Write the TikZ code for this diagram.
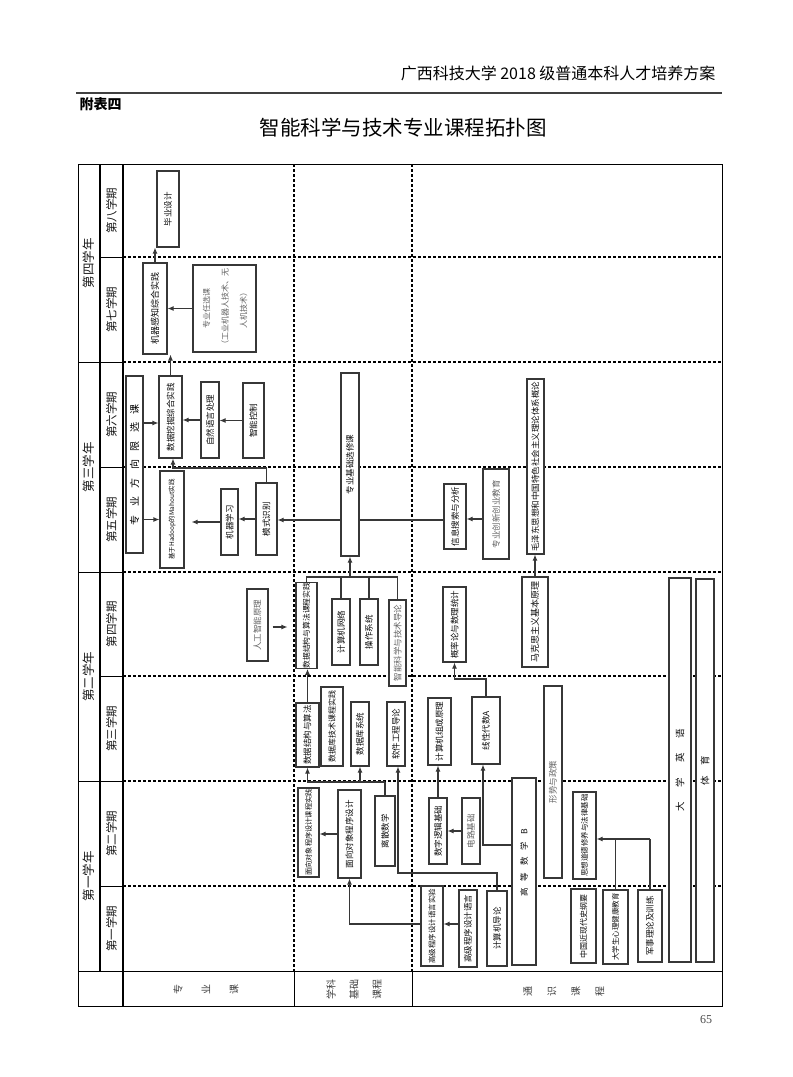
\documentclass[tikz,border=0pt]{standalone}
\usepackage{fontspec}
\setmainfont{Noto Sans CJK SC}
\newfontfamily\pagefont{Liberation Serif}
\usepackage{graphicx}
\usepackage{xcolor}
\usepackage{tikz}
\usetikzlibrary{arrows.meta}
\definecolor{boxline}{RGB}{55, 55, 55}
\definecolor{lighttext}{RGB}{100, 100, 100}
\newcommand{\vtext}[1]{\rotatebox{90}{#1}}
\tikzset{
    course/.style={draw=boxline, line width=1.1pt, fill=white, inner sep=0pt, text=black!95, font=\fontsize{8.5}{10}\selectfont},
    bx/.style 2 args={minimum width=#1pt, minimum height=#2pt},
    link/.style={draw=boxline, line width=1.1pt},
    tableline/.style={line width=1pt},
    thickrule/.style={line width=2pt},
    semline/.style={line width=1.3pt, dash pattern=on 2.5pt off 2.5pt}
}

\begin{document}
\begin{tikzpicture}[x=1pt, y=-1pt, >={Latex[length=6pt,width=5pt]}]
                \useasboundingbox (0,0) rectangle (793,1077);
                \fill[white] (0,0) rectangle (793,1077);

                % Page head and title
                \node[anchor=east, font=\fontsize{16}{18}\selectfont] (head) at (719,73) {广西科技大学 2018 级普通本科人才培养方案};
                \draw[line width=1.5pt, black!75] (76,93) -- (722,93);
                \node[anchor=west, font=\fontsize{14}{16}\selectfont\bfseries] (fb) at (76,104) {附表四};
                \node[font=\fontsize{20.5}{24}\selectfont] (title) at (403,128) {智能科学与技术专业课程拓扑图};

                % Table frame
                \draw[tableline] (78,164) rectangle (722,1006);
                \draw[thickrule] (100,164) -- (100,971);
                \draw[thickrule] (123,164) -- (123,1006);
                \draw[tableline] (78,971) -- (722,971);
                \draw[tableline] (294,971) -- (294,1006);
                \draw[tableline] (412,971) -- (412,1006);
                \foreach \y in {362,572,781} \draw[tableline] (78,\y) -- (123,\y);
                \foreach \y in {257,467,676,886} \draw[tableline] (100,\y) -- (123,\y);
                \foreach \y in {257,362,467,572,676,781,886} \draw[semline] (123,\y) -- (722,\y);
                \foreach \x in {294,412} \draw[semline] (\x,164) -- (\x,971);

                % Years and terms
                \foreach \y/\t [count=\i] in {263/第四学年, 467/第三学年, 676.5/第二学年, 876/第一学年}
                    \node[rotate=90, text=black!90, font=\fontsize{12.5}{14}\selectfont] (year\i) at (89,\y) {\t};
                \foreach \y/\t [count=\i] in {210.5/第八学期, 309.5/第七学期, 414.5/第六学期, 519.5/第五学期, 624/第四学期, 728.5/第三学期, 833.5/第二学期, 928.5/第一学期}
                    \node[rotate=90, text=black!90, font=\fontsize{11.5}{13}\selectfont] (term\i) at (111.5,\y) {\t};

                % Column heads
                \node[rotate=90, align=center, text=black!75, font=\fontsize{10}{28}\selectfont] (zyk) at (206,989) {专\\业\\课};
                \node[rotate=90, align=center, text=black!75, font=\fontsize{10}{23}\selectfont] (xkjc) at (354,989) {学科\\基础\\课程};
                \node[rotate=90, align=center, text=black!75, font=\fontsize{10}{24}\selectfont] (tskc) at (564,991) {通\\识\\课\\程};

                % Major courses
                \node[course, bx={22}{76}] (bysj) at (168,209) {\vtext{毕业设计}};
                \node[course, bx={24}{91}, font=\fontsize{9}{10}\selectfont] (jqgz) at (155,308.5) {\vtext{机器感知综合实践}};
                \node[course, bx={63}{87}, text=lighttext] (zyrx) at (224.5,308.5) {\vtext{\fontsize{8}{18.5}\selectfont\begin{tabular}{@{}c@{}}专业任选课\\（工业机器人技术、无\\人机技术）\end{tabular}}};
                \node[course, bx={17}{177}, text=black, font=\fontsize{10}{12}\selectfont] (fxxx) at (134.5,464.5) {\vtext{专\hspace{8.5pt}业\hspace{8.5pt}方\hspace{8.5pt}向\hspace{8.5pt}限\hspace{8.5pt}选\hspace{8.5pt}课}};
                \node[course, bx={23}{82}] (sjwj) at (170.5,417) {\vtext{数据挖掘综合实践}};
                \node[course, bx={18}{76}] (zryy) at (210,420) {\vtext{自然语言处理}};
                \node[course, bx={21}{75}] (znkz) at (253.5,420.5) {\vtext{智能控制}};
                \node[course, bx={24}{97}, font=\fontsize{6.5}{8}\selectfont] (hadoop) at (172,519.5) {\vtext{基于Hadoop的Mahout实践}};
                \node[course, bx={17}{66}] (jqxx) at (229.5,522) {\vtext{机器学习}};
                \node[course, bx={21}{72}] (msbs) at (266.5,519) {\vtext{模式识别}};

                % Basic courses
                \node[course, bx={18}{183}] (jcxx) at (350,464.5) {\vtext{专业基础选修课}};
                \node[course, bx={21}{83}, font=\fontsize{7.8}{9}\selectfont] (sjsj) at (306.5,625.5) {\vtext{数据结构与算法课程实践}};
                \node[course, bx={18}{66}] (jsjw) at (341,632) {\vtext{计算机网络}};
                \node[course, bx={18}{66}] (czxt) at (369,632) {\vtext{操作系统}};
                \node[course, bx={17}{86}, text=lighttext] (dlkx) at (397.5,643) {\vtext{智能科学与技术导论}};
                \node[course, bx={21}{72}, text=lighttext] (rgzn) at (257.5,625) {\vtext{人工智能原理}};
                \node[course, bx={23}{64}] (sjjg) at (307.5,735) {\vtext{数据结构与算法}};
                \node[course, bx={22}{79}, font=\fontsize{8}{9}\selectfont] (sjks) at (332,726.5) {\vtext{数据库技术课程实践}};
                \node[course, bx={18}{64}] (sjkx) at (360,734) {\vtext{数据库系统}};
                \node[course, bx={18}{64}] (rjgc) at (396,734) {\vtext{软件工程导论}};
                \node[course, bx={21}{89}, font=\fontsize{7.2}{9}\selectfont] (mxsj) at (308.5,832.5) {\vtext{面向对象程序设计课程实践}};
                \node[course, bx={23}{88}] (mxdx) at (349.5,834) {\vtext{面向对象程序设计}};
                \node[course, bx={20}{70}] (lssx) at (385,831) {\vtext{离散数学}};

                % General courses
                \node[course, bx={22}{65}] (xxss) at (455,516.5) {\vtext{信息搜索与分析}};
                \node[course, bx={26}{90}, text=lighttext] (cxcy) at (496,514) {\vtext{专业创新创业教育}};
                \node[course, bx={17}{175}] (mzd) at (535.5,466.5) {\vtext{毛泽东思想和中国特色社会主义理论体系概论}};
                \node[course, bx={26}{90}, font=\fontsize{9}{10}\selectfont] (mks) at (535,622) {\vtext{马克思主义基本原理}};
                \node[course, bx={23}{75}] (gll) at (454.5,624.5) {\vtext{概率论与数理统计}};
                \node[course, bx={23}{67}] (jszc) at (439.5,731.5) {\vtext{计算机组成原理}};
                \node[course, bx={28}{67}] (xxds) at (486,730.5) {\vtext{线性代数A}};
                \node[course, bx={18}{192}, text=lighttext] (xszc) at (553,782) {\vtext{形势与政策}};
                \node[course, bx={22}{384}, font=\fontsize{9.5}{11}\selectfont] (dxyy) at (680,770) {\vtext{大\hspace{15pt}学\hspace{15pt}英\hspace{15pt}语}};
                \node[course, bx={18}{383}, font=\fontsize{9.5}{11}\selectfont] (ty) at (705,770.5) {\vtext{体\hspace{11pt}育}};
                \node[course, bx={18}{66}] (szlj) at (438,831) {\vtext{数字逻辑基础}};
                \node[course, bx={18}{66}, text=lighttext] (dljc) at (471,831) {\vtext{电路基础}};
                \node[course, bx={24}{187}] (gdsx) at (524,871.5) {\vtext{\hspace{17pt}高\hspace{7pt}等\hspace{7pt}数\hspace{7pt}学\hspace{7pt}B}};
                \node[course, bx={23}{87}, font=\fontsize{7.5}{9}\selectfont] (sxdd) at (584.5,835.5) {\vtext{思想道德修养与法律基础}};
                \node[course, bx={25}{74}, font=\fontsize{8}{9}\selectfont] (jds) at (583.5,926) {\vtext{中国近现代史纲要}};
                \node[course, bx={25}{74}, font=\fontsize{7.5}{9}\selectfont] (xljk) at (615.5,927) {\vtext{大学生心理健康教育}};
                \node[course, bx={24}{72}] (jsll) at (650,926) {\vtext{军事理论及训练}};
                \node[course, bx={22}{80}, font=\fontsize{7.5}{9}\selectfont] (gjsy) at (432,926) {\vtext{高级程序设计语言实验}};
                \node[course, bx={18}{77}] (gjyy) at (468,928.5) {\vtext{高级程序设计语言}};
                \node[course, bx={20}{75}] (jsjd) at (497,928.5) {\vtext{计算机导论}};

                % Links, major courses
                \draw[link, ->] (jqgz.north) -- (jqgz.north |- bysj.south);
                \draw[link, ->] (zyrx.west) -- (zyrx.west -| jqgz.east);
                \draw[link, ->] (sjwj.north) -- (sjwj.north |- jqgz.south);
                \draw[link, ->] (fxxx.east |- 0,423) -- (sjwj.west |- 0,423);
                \draw[link, ->] (fxxx.east |- hadoop.west) -- (hadoop.west);
                \draw[link, ->] (zryy.west) -- (zryy.west -| sjwj.east);
                \draw[link, ->] (znkz.west) -- (znkz.west -| zryy.east);
                \draw[link, ->, shorten >=7pt] (jqxx.west) -- (jqxx.west -| hadoop.east);
                \draw[link, ->] (msbs.west) -- (msbs.west -| jqxx.east);
                \draw[link, ->] (msbs.north) -- (msbs.north |- 0,468) -| ([xshift=2.5pt]sjwj.south);
                \draw[link] (xxss.west |- 0,520) -- (jcxx.east |- 0,520);
                \draw[link, ->] (jcxx.west |- 0,520) -- (msbs.east |- 0,520);

                % Links, basic courses
                \coordinate (jn) at (350,577);
                \draw[link] (sjsj.north) |- (jn);
                \draw[link] (dlkx.north) |- (jn);
                \draw[link] (jsjw.north) -- (jsjw.north |- jn);
                \draw[link] (czxt.north) -- (czxt.north |- jn);
                \draw[link, ->] (jn) -- (jcxx.south);
                \draw[link, ->, shorten <=4pt, shorten >=8pt] (rgzn.east |- 0,627) -- (sjsj.west |- 0,627);
                \draw[link, ->] (sjjg.north) -- (sjjg.north |- sjsj.south);
                \coordinate (lsbar) at (385,782);
                \draw[link] (lssx.north) -- (lsbar);
                \draw[link, ->] (lsbar) -| (sjjg.south);
                \draw[link, ->] (sjkx.south |- lsbar) -- (sjkx.south);
                \coordinate (dlbar) at (497,873);
                \draw[link, ->] (jsjd.north) -- (dlbar) -| ([xshift=2pt]rjgc.south);
                \draw[link, ->] (mxdx.west) -- (mxdx.west -| mxsj.east);
                \draw[link, ->] (gjsy.west |- 0,924) -| (mxdx.south);
                \draw[link, ->] (gjyy.west |- 0,924) -- (gjsy.east |- 0,924);

                % Links, general courses
                \draw[link, ->] (cxcy.west |- 0,519) -- (xxss.east |- 0,519);
                \draw[link, ->] (mks.north) -- (mks.north |- mzd.south);
                \coordinate (xdbar) at (486,679);
                \draw[link, ->] (xxds.north) -- (xdbar) -| (gll.south);
                \draw[link, ->] (szlj.north) -- (szlj.north |- jszc.south);
                \draw[link, ->] (dljc.west) -- (dljc.west -| szlj.east);
                \draw[link, ->] (gdsx.west |- 0,845) -| ([xshift=-3pt]xxds.south);
                \coordinate (jxbar) at (650,839);
                \draw[link] (jsll.north) -- (jxbar);
                \draw[link] (xljk.north) -- (xljk.north |- jxbar);
                \draw[link, ->] (jxbar) -- (jxbar -| sxdd.east);

                \node[text=black!70, font=\pagefont\fontsize{12}{14}\selectfont] (pg) at (706,1020) {65};
            \end{tikzpicture}
\end{document}
